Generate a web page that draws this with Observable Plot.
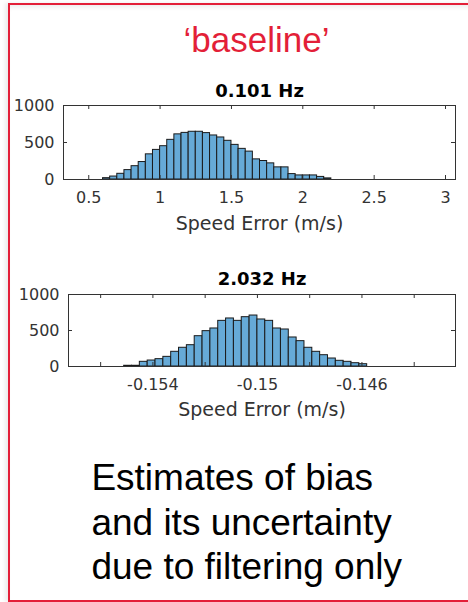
<!DOCTYPE html>
<html><head><meta charset="utf-8">
<script src="https://cdn.jsdelivr.net/npm/d3@7"></script>
<script src="https://cdn.jsdelivr.net/npm/@observablehq/plot@0.6"></script>
<style>
html,body{margin:0;padding:0;background:#fff;}
body{width:468px;height:602px;overflow:hidden;position:relative;}
#box{position:absolute;left:8px;top:3px;width:480px;height:599px;box-sizing:border-box;border:2px solid #e31f38;
 box-shadow:-3px 0 4px rgba(0,0,0,0.08), inset 0 5px 5px -3px rgba(0,0,0,0.08);}
#head{position:absolute;left:156.5px;width:200px;top:22.4px;text-align:center;font-family:"Liberation Sans",Arial,sans-serif;
 font-size:35px;line-height:35px;color:#e31f38;white-space:nowrap;}
#cap{position:absolute;left:91.4px;top:456px;font-family:"Liberation Sans",Arial,sans-serif;font-size:37px;line-height:44.5px;color:#000;white-space:nowrap;}
.plot{position:absolute;left:0;}
</style></head><body>
<div id="box"></div>
<div id="head">‘baseline’</div>
<div id="p1" class="plot" style="top:75px"></div>
<div id="p2" class="plot" style="top:265px"></div>
<div id="cap">Estimates of bias<br>and its uncertainty<br>due to filtering only</div>
<script>
// ---- data ----
const title1 = "0.101 Hz";
const title2 = "2.032 Hz";
const xLabel = "Speed Error (m/s)";
const binStart1 = 0.6, binWidth1 = 0.05;
const counts1 = [18,40,77,127,180,236,340,400,450,536,610,630,645,645,627,595,568,523,468,414,377,272,250,218,164,164,73,55,55,55,35,15];
const binStart2 = -0.1551, binWidth2 = 0.0003;
const counts2 = [10,10,65,83,102,134,204,260,296,421,491,528,634,667,634,685,708,653,634,528,514,403,352,260,204,157,111,79,65,46,32];
const xDomain1 = [0.323, 3.07];
const xDomain2 = [-0.15723, -0.14242];
const xTicks1 = [0.5, 1, 1.5, 2, 2.5, 3];
const xTickLabels1 = ["0.5","1","1.5","2","2.5","3"];
const xTicks2 = [-0.156, -0.154, -0.152, -0.15, -0.148, -0.146, -0.144];
const xLabeled2 = [-0.154, -0.15, -0.146];
const xTickLabels2 = ["-0.154","-0.15","-0.146"];
const yTicks = [0, 500, 1000];
const yTickLabels = ["0","500","1000"];

function hist({counts, start, width, domain, ticks, labeled, labels, title, marginLeft, marginTop, marginBottom, height, titleDy, labelDy}) {
  const W = 468, marginRight = 13;
  const bins = counts.map((c, i) => ({x1: start + i * width, x2: start + (i + 1) * width, y: c}));
  const fh = height - marginTop - marginBottom;
  const fw = W - marginLeft - marginRight;
  const ink = "#333";
  const fmt = d => labels[labeled.indexOf(d)];
  const yfmt = d => yTickLabels[yTicks.indexOf(d)];
  return Plot.plot({
    width: W, height, marginLeft, marginRight, marginTop, marginBottom,
    x: {domain, label: null},
    y: {domain: [0, 1000], label: null},
    style: {fontFamily: "DejaVu Sans", fontSize: "16px", color: ink, background: "transparent", overflow: "visible"},
    marks: [
      Plot.rect(bins, {x1: "x1", x2: "x2", y1: 0, y2: "y", fill: "#66aad7", stroke: "#1a1a1a", strokeWidth: 1}),
      Plot.frame({stroke: ink}),
      Plot.tickX(ticks, {x: d => d, insetTop: fh - 4, stroke: ink}),
      Plot.tickX(ticks, {x: d => d, insetBottom: fh - 4, stroke: ink}),
      Plot.tickY(yTicks, {y: d => d, insetRight: fw - 4, stroke: ink}),
      Plot.tickY(yTicks, {y: d => d, insetLeft: fw - 4, stroke: ink}),
      Plot.axisX(labeled, {tickSize: 0, tickPadding: 12, tickFormat: fmt, fontSize: 16, fill: ink, label: null}),
      Plot.axisY(yTicks, {tickSize: 0, tickPadding: 9, tickFormat: yfmt, fontSize: 16, fill: ink, label: null}),
      Plot.text([title], {text: d => d, frameAnchor: "top", lineAnchor: "middle", dy: titleDy, fontWeight: "bold", fontSize: 18, fill: "#000"}),
      Plot.text([xLabel], {text: d => d, frameAnchor: "bottom", lineAnchor: "middle", dy: labelDy, fontSize: 19, fill: ink})
    ]
  });
}

document.getElementById("p1").append(hist({
  counts: counts1, start: binStart1, width: binWidth1, domain: xDomain1,
  ticks: xTicks1, labeled: xTicks1, labels: xTickLabels1, title: title1,
  marginLeft: 63, marginTop: 30, marginBottom: 61, height: 165, titleDy: -14, labelDy: 44
}));
document.getElementById("p2").append(hist({
  counts: counts2, start: binStart2, width: binWidth2, domain: xDomain2,
  ticks: xTicks2, labeled: xLabeled2, labels: xTickLabels2, title: title2,
  marginLeft: 68, marginTop: 29, marginBottom: 64, height: 165, titleDy: -15, labelDy: 43
}));
</script>
</body></html>
